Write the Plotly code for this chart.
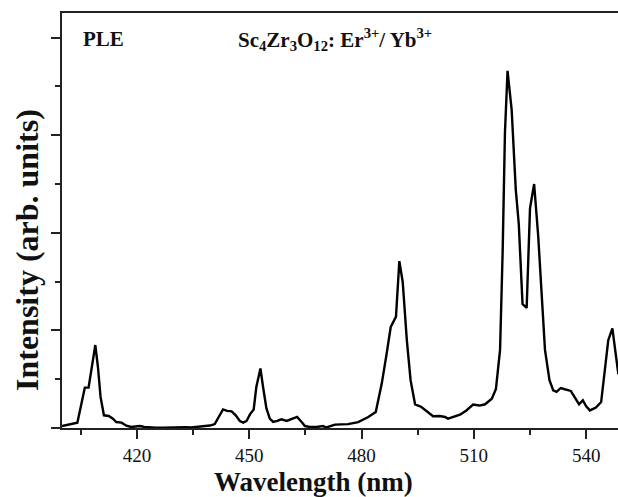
import plotly.graph_objects as go

wavelength = [400.0, 401.5, 402.1, 404.1, 405.0, 406.1, 407.1, 407.9, 408.9, 409.6, 410.3, 411.2,
              412.5, 413.6, 414.5, 415.9, 417.2, 418.5, 419.5, 420.8, 422.0, 423.5, 425.0, 427.0,
              429.0, 431.0, 433.0, 434.5, 436.0, 437.7, 439.5, 440.8, 441.7, 443.0, 444.1, 445.3,
              446.4, 447.5, 448.4, 449.3, 450.2, 451.2, 451.9, 453.0, 453.7, 454.6, 455.5, 456.4,
              457.5, 458.6, 460.0, 461.3, 462.8, 464.0, 464.9, 466.2, 468.0, 469.7, 470.6, 472.9,
              476.4, 479.1, 481.8, 483.8, 485.4, 486.7, 487.8, 489.2, 490.1, 491.0, 492.1, 493.1,
              494.3, 496.0, 497.5, 499.1, 500.9, 502.3, 503.1, 504.5, 506.3, 508.0, 509.8, 511.5,
              513.0, 514.8, 515.9, 517.0, 517.7, 518.3, 519.0, 520.1, 521.2, 522.0, 523.0, 524.1,
              525.0, 526.1, 527.2, 528.1, 529.0, 530.2, 531.2, 532.1, 533.2, 534.3, 535.9, 537.0,
              538.1, 539.1, 540.0, 541.0, 542.6, 544.0, 545.0, 545.9, 547.0, 548.1, 548.6]
intensity = [0.02, 0.03, 0.04, 0.055, 0.215, 0.414, 0.414, 0.61, 0.85, 0.625, 0.318, 0.13,
             0.123, 0.096, 0.061, 0.055, 0.024, 0.01, 0.012, 0.02, 0.01, 0.005, 0.003, 0.002,
             0.005, 0.004, 0.008, 0.005, 0.01, 0.015, 0.025, 0.04, 0.096, 0.19, 0.175, 0.171,
             0.13, 0.072, 0.055, 0.072, 0.14, 0.19, 0.42, 0.61, 0.42, 0.2, 0.096, 0.062,
             0.072, 0.089, 0.072, 0.092, 0.113, 0.062, 0.02, 0.01, 0.01, 0.02, 0.005, 0.035,
             0.04, 0.06, 0.113, 0.164, 0.455, 0.76, 1.035, 1.14, 1.71, 1.496, 0.9, 0.49,
             0.243, 0.215, 0.17, 0.12, 0.123, 0.113, 0.096, 0.113, 0.137, 0.18, 0.24, 0.23,
             0.243, 0.3, 0.4, 0.8, 1.82, 3.02, 3.66, 3.26, 2.44, 2.09, 1.27, 1.23,
             2.25, 2.5, 1.96, 1.38, 0.8, 0.49, 0.386, 0.37, 0.41, 0.397, 0.38, 0.31,
             0.243, 0.284, 0.222, 0.18, 0.209, 0.266, 0.625, 0.9, 1.02, 0.73, 0.55]

x_ticks = [420, 450, 480, 510, 540]
x_title = "Wavelength (nm)"
y_title = "Intensity (arb. units)"
label_left = "PLE"
label_right = "Sc<sub>4</sub>Zr<sub>3</sub>O<sub>12</sub>: Er<sup>3+</sup>/ Yb<sup>3+</sup>"

FONT = "Liberation Serif"
AX = "#222222"

fig = go.Figure()
fig.add_trace(go.Scatter(x=wavelength, y=intensity, mode="lines",
                         line=dict(color="black", width=2.4), showlegend=False))

fig.update_layout(
    width=618, height=497,
    margin=dict(l=62, r=0, t=13, b=69),
    paper_bgcolor="white", plot_bgcolor="white",
    font=dict(family=FONT, color="black"),
    xaxis=dict(range=[400, 548.5], tickvals=x_ticks, ticktext=[str(v) for v in x_ticks],
               ticks="outside", ticklen=9, tickwidth=1.5, tickcolor=AX,
               showline=True, linecolor=AX, linewidth=2, mirror=True,
               showgrid=False, zeroline=False,
               tickfont=dict(family=FONT, size=19, color="#111"),
               minor=dict(tickvals=[405, 435, 465, 495, 525], ticks="outside", ticklen=5,
                          tickwidth=1.5, tickcolor=AX)),
    yaxis=dict(range=[0, 4.252], dtick=1, tick0=0, showticklabels=False,
               ticks="outside", ticklen=9, tickwidth=1.5, tickcolor=AX,
               showline=True, linecolor=AX, linewidth=2,
               showgrid=False, zeroline=False,
               minor=dict(dtick=0.5, tick0=0, ticks="outside", ticklen=5,
                          tickwidth=1.5, tickcolor=AX)),
    annotations=[
        dict(text="<b>%s</b>" % x_title, xref="paper", yref="paper",
             x=(313 - 62) / 556, y=(428 - 482) / 415, xanchor="center", yanchor="middle",
             showarrow=False, font=dict(family=FONT, size=27, color="#111")),
        dict(text="<b>%s</b>" % y_title, xref="paper", yref="paper", textangle=-90,
             x=(27 - 62) / 556, y=(428 - 250) / 415, xanchor="center", yanchor="middle",
             showarrow=False, font=dict(family=FONT, size=32, color="#111")),
        dict(text="<b>%s</b>" % label_left, xref="paper", yref="paper",
             x=(81 - 62) / 556, y=(428 - 39) / 415, xanchor="left", yanchor="middle",
             showarrow=False, font=dict(family=FONT, size=21, color="#111")),
        dict(text="<b>%s</b>" % label_right, xref="paper", yref="paper",
             x=(236 - 62) / 556, y=(428 - 39) / 415, xanchor="left", yanchor="middle",
             showarrow=False, font=dict(family=FONT, size=21, color="#111")),
    ],
)

fig.write_html("out.html")
